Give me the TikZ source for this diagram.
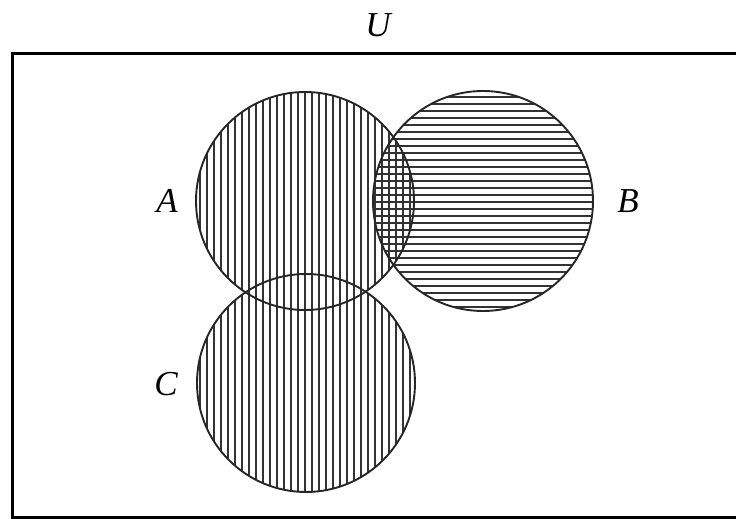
\documentclass[tikz,border=0pt]{standalone}
\usepackage{fontspec}
\setmainfont{Liberation Serif}
\begin{document}
\begin{tikzpicture}[x=1pt,y=1pt,
  frame/.style={line width=3pt},
  setline/.style={line width=1.9pt, draw=black!85},
  hatch/.style={line width=1.3pt, draw=black!80},
  lab/.style={font=\fontsize{35}{40}\selectfont\itshape, inner sep=0pt}]
\useasboundingbox (0,0) rectangle (736,519);
% universe
\draw[frame] (12,1) rectangle (760,465);
\node[lab] (U) at (378,494) {U};
% hatching A (vertical)
\begin{scope}
  \clip (305,318) circle (109);
  \foreach \x in {193,200,...,430} \draw[hatch] (\x,200) -- (\x,440);
\end{scope}
% hatching C (vertical)
\begin{scope}
  \clip (306,136) circle (109);
  \foreach \x in {193,200,...,430} \draw[hatch] (\x,20) -- (\x,250);
\end{scope}
% hatching B (horizontal)
\begin{scope}
  \clip (483,318) circle (110);
  \foreach \y in {205,212,...,435} \draw[hatch] (365,\y) -- (600,\y);
\end{scope}
% circles
\node[setline, circle, minimum size=218pt, inner sep=0pt] (A) at (305,318) {};
\node[setline, circle, minimum size=220pt, inner sep=0pt] (B) at (483,318) {};
\node[setline, circle, minimum size=218pt, inner sep=0pt] (C) at (306,136) {};
% labels
\node[lab] (la) at (167,318) {A};
\node[lab] (lb) at (628,318) {B};
\node[lab] (lc) at (166,135) {C};
\end{tikzpicture}
\end{document}
